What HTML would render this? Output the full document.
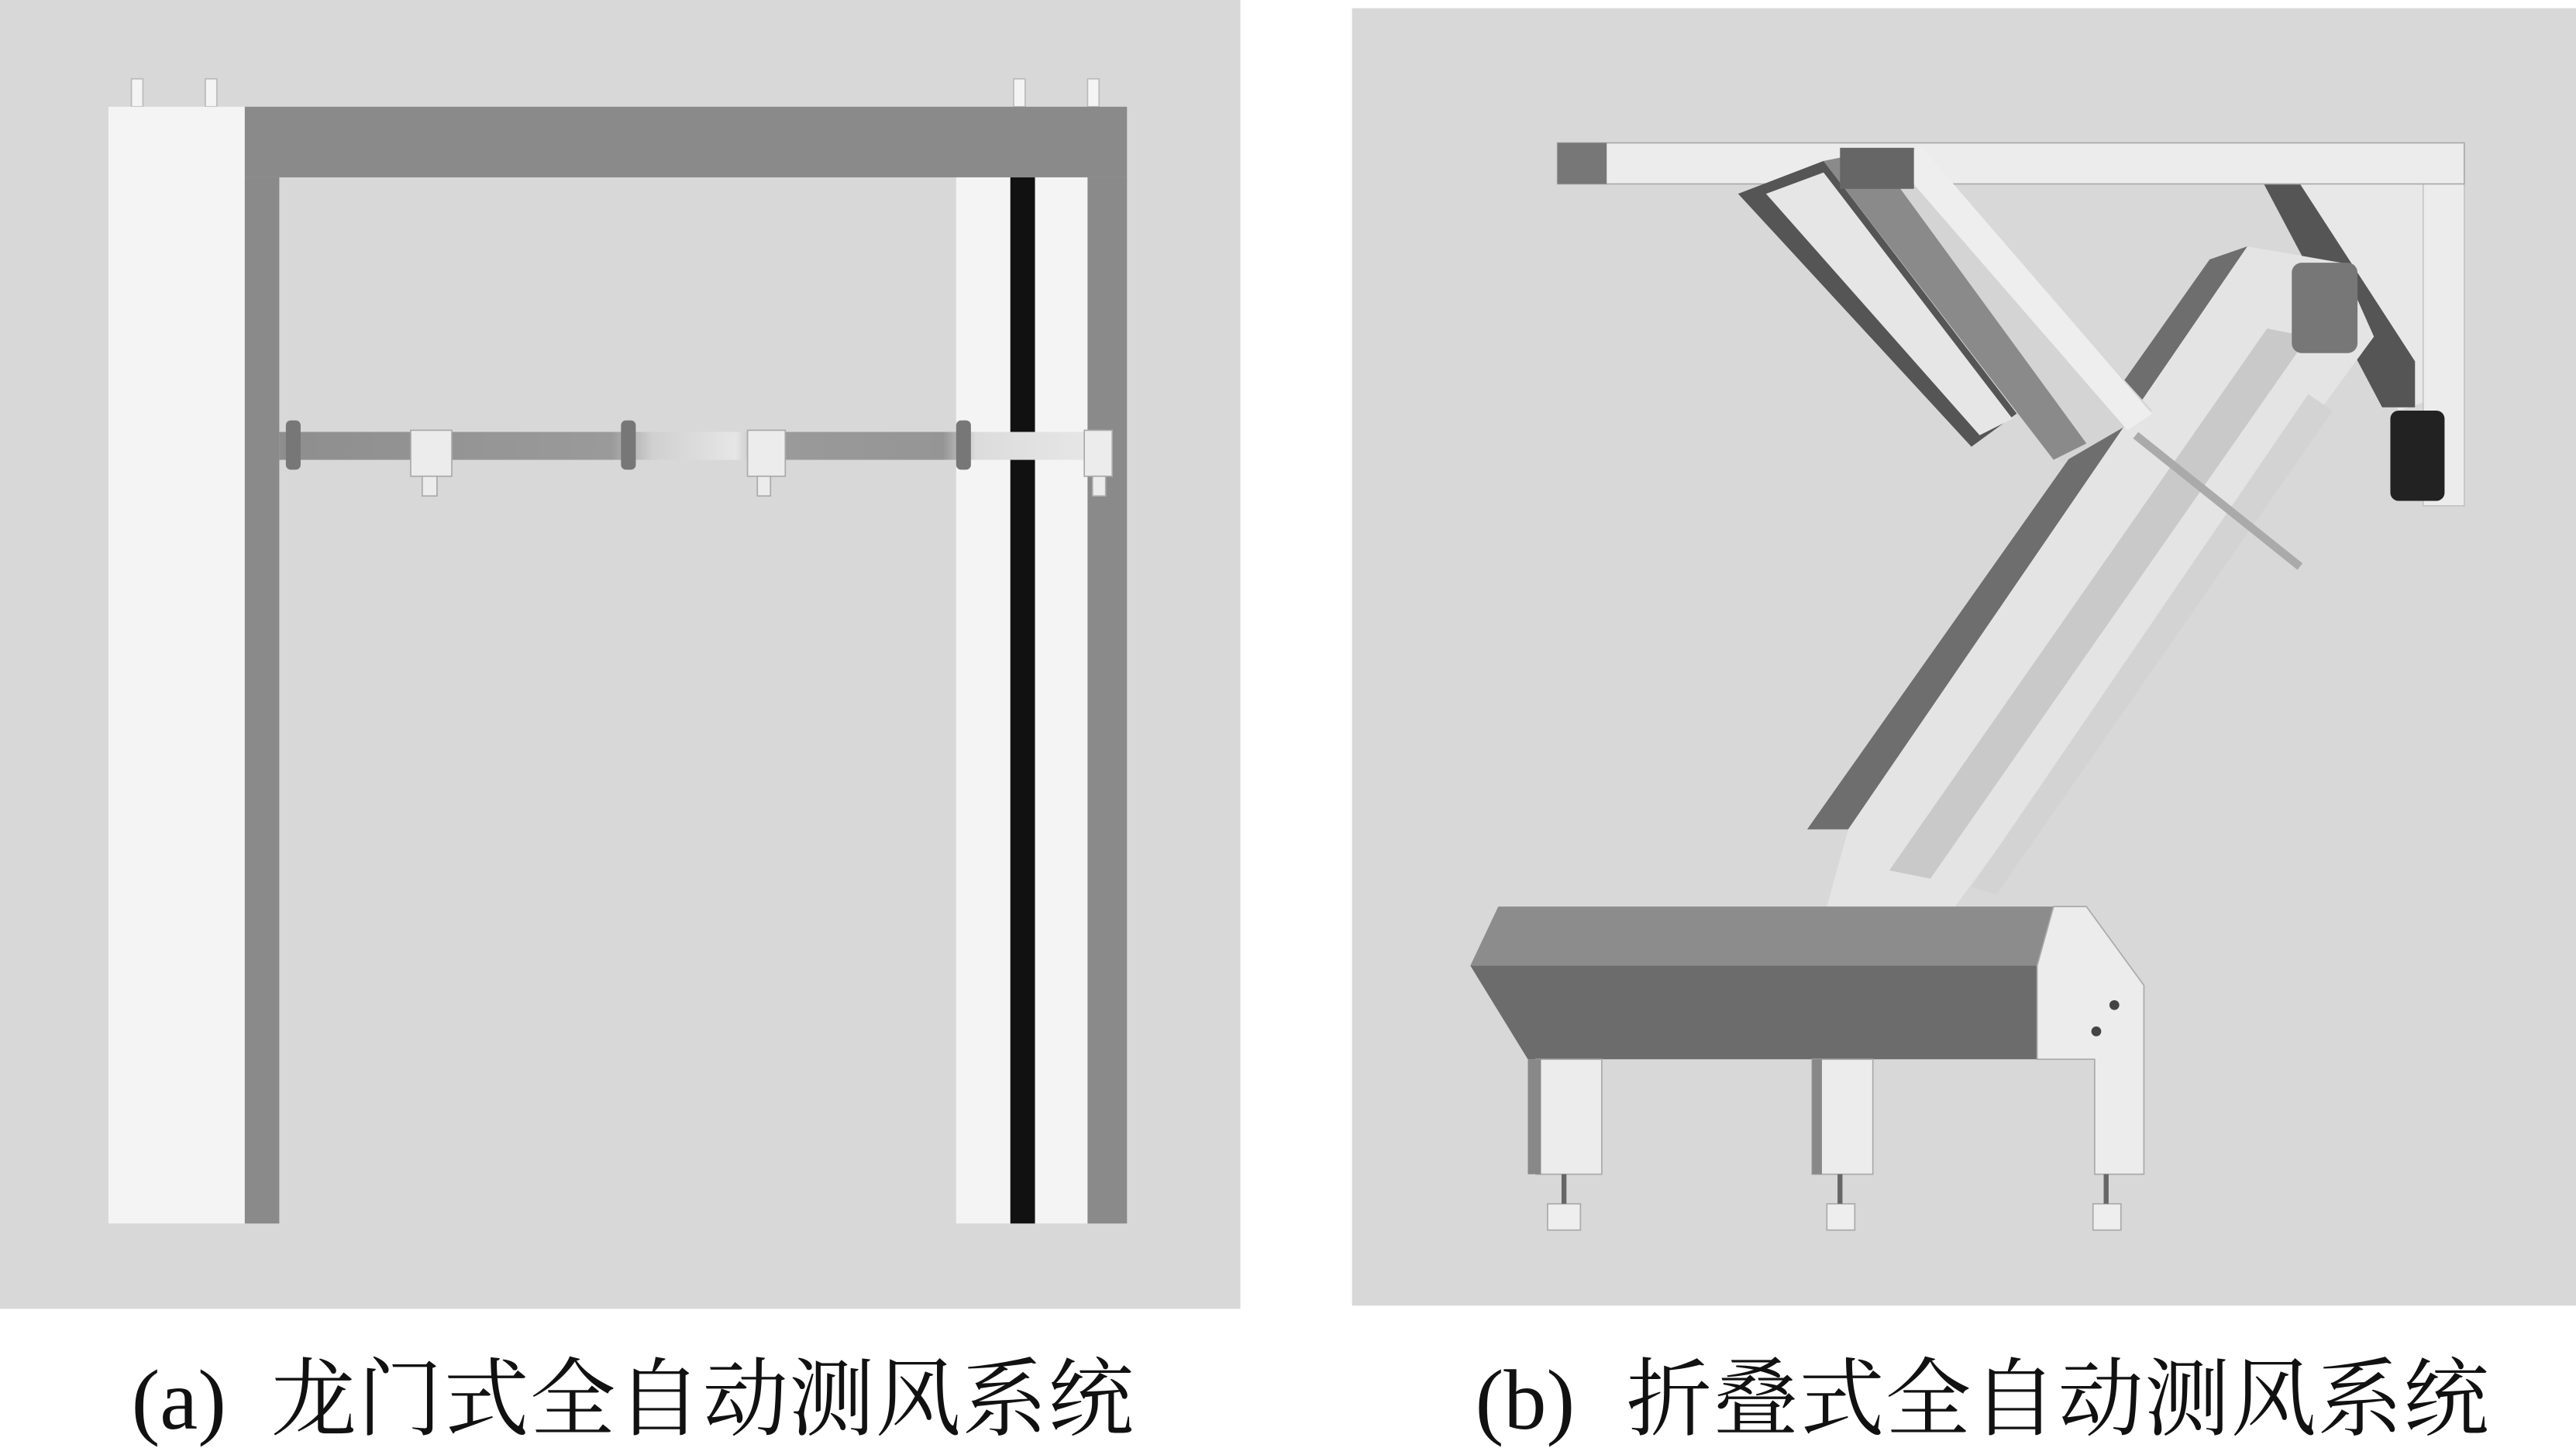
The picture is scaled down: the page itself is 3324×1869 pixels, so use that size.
<!DOCTYPE html>
<html><head><meta charset="utf-8"><style>
html,body{margin:0;padding:0;background:#fff;}
svg{display:block;}
</style></head><body>
<svg width="3324" height="1869" viewBox="0 0 1568 881.7" preserveAspectRatio="none" xmlns="http://www.w3.org/2000/svg">
<rect width="1568" height="882" fill="#fff"/>
<!-- Left panel -->
<rect x="0" y="0" width="755" height="797" fill="#d8d8d8"/>
<g fill="#f4f4f4" stroke="#bbb" stroke-width="0.8">
<rect x="80" y="48" width="7" height="17"/><rect x="125" y="48" width="7" height="17"/>
<rect x="617" y="48" width="7" height="17"/><rect x="662" y="48" width="7" height="17"/>
</g>
<rect x="66" y="65" width="83" height="680" fill="#f4f4f4"/>
<rect x="149" y="65" width="537" height="43" fill="#8a8a8a"/>
<rect x="149" y="108" width="21" height="637" fill="#8a8a8a"/>
<rect x="582" y="108" width="33" height="637" fill="#f4f4f4"/>
<rect x="615" y="108" width="15" height="637" fill="#111"/>
<rect x="630" y="108" width="32" height="637" fill="#f4f4f4"/>
<rect x="662" y="108" width="24" height="637" fill="#8a8a8a"/>
<defs>
<linearGradient id="bar" x1="0" x2="1" y1="0" y2="0">
<stop offset="0" stop-color="#8e8e8e"/><stop offset="0.4" stop-color="#9a9a9a"/>
<stop offset="0.45" stop-color="#d0d0d0"/><stop offset="0.55" stop-color="#e6e6e6"/>
<stop offset="0.6" stop-color="#9a9a9a"/><stop offset="0.8" stop-color="#959595"/>
<stop offset="0.84" stop-color="#dcdcdc"/><stop offset="1" stop-color="#e8e8e8"/>
</linearGradient>
</defs>
<rect x="170" y="263" width="505" height="17" fill="url(#bar)"/>
<g fill="#777"><rect x="174" y="256" width="9" height="30" rx="3"/><rect x="378" y="256" width="9" height="30" rx="3"/><rect x="582" y="256" width="9" height="30" rx="3"/></g>
<g fill="#ececec" stroke="#aaa" stroke-width="0.8">
<rect x="250" y="262" width="25" height="28"/><rect x="257" y="290" width="9" height="12"/>
<rect x="455" y="262" width="23" height="28"/><rect x="461" y="290" width="8" height="12"/>
<rect x="660" y="262" width="17" height="28"/><rect x="665" y="290" width="8" height="12"/>
</g>
<g font-family="'Liberation Serif','Noto Serif CJK SC',serif" font-size="52" fill="#111">
<text x="80" y="870">(a)</text>
<text x="165" y="870" textLength="525" lengthAdjust="spacing">龙门式全自动测风系统</text>
<text x="898" y="870">(b)</text>
<text x="990" y="870" textLength="525" lengthAdjust="spacing">折叠式全自动测风系统</text>
</g>

<!-- Right panel -->
<rect x="823" y="5" width="745" height="790" fill="#d8d8d8"/>
<polygon points="1380,112 1475,112 1475,245 1460,250" fill="#e8e8e8"/>
<polygon points="1378,112 1400,112 1470,220 1470,248 1450,248" fill="#555"/>
<rect x="1475" y="87" width="25" height="221" fill="#ececec" stroke="#bbb" stroke-width="0.6"/>
<rect x="1455" y="250" width="33" height="55" rx="5" fill="#222"/>
<rect x="948" y="87" width="552" height="25" fill="#ececec" stroke="#aaa" stroke-width="0.8"/>
<rect x="948" y="87" width="30" height="25" fill="#777"/>
<polygon points="1100,505 1345,158 1368,150 1125,505" fill="#6e6e6e"/>
<polygon points="1125,505 1368,150 1425,160 1445,205 1190,552 1112,552" fill="#e4e4e4"/>
<polygon points="1150,530 1380,200 1405,205 1175,535" fill="#c9c9c9"/>
<polygon points="1200,540 1405,240 1420,250 1215,545" fill="#d3d3d3"/>
<line x1="1300" y1="265" x2="1400" y2="345" stroke="#aaa" stroke-width="5"/>
<polygon points="1058,118 1110,98 1230,250 1200,272" fill="#555"/>
<polygon points="1075,118 1110,105 1225,255 1205,265" fill="#e6e6e6"/>
<polygon points="1110,98 1165,90 1310,250 1255,282 1230,255" fill="#d4d4d4"/>
<polygon points="1150,95 1170,90 1310,252 1295,262" fill="#eee"/>
<polygon points="1110,98 1140,92 1270,270 1250,280" fill="#8a8a8a"/>
<rect x="1120" y="90" width="45" height="25" fill="#666"/>
<rect x="1395" y="160" width="40" height="55" rx="6" fill="#777"/>
<polygon points="912,552 1250,552 1240,588 895,588" fill="#8c8c8c"/>
<polygon points="895,588 1240,588 1240,645 930,645" fill="#6c6c6c"/>
<polygon points="1250,552 1270,552 1305,600 1305,715 1275,715 1275,645 1240,645 1240,588" fill="#ececec" stroke="#aaa" stroke-width="0.8"/>
<circle cx="1287" cy="612" r="3" fill="#444"/><circle cx="1276" cy="628" r="3" fill="#444"/>
<g fill="#ececec" stroke="#aaa" stroke-width="0.8">
<rect x="935" y="645" width="40" height="70"/>
<rect x="1103" y="645" width="37" height="70"/>
</g>
<rect x="930" y="645" width="8" height="70" fill="#888"/>
<rect x="1103" y="645" width="6" height="70" fill="#888"/>
<g fill="#eee" stroke="#aaa" stroke-width="0.8">
<rect x="942" y="733" width="20" height="16"/><rect x="1112" y="733" width="17" height="16"/><rect x="1274" y="733" width="17" height="16"/>
</g>
<g stroke="#666" stroke-width="3"><line x1="952" y1="715" x2="952" y2="733"/><line x1="1120" y1="715" x2="1120" y2="733"/><line x1="1282" y1="715" x2="1282" y2="733"/></g>
</svg>
</body></html>
